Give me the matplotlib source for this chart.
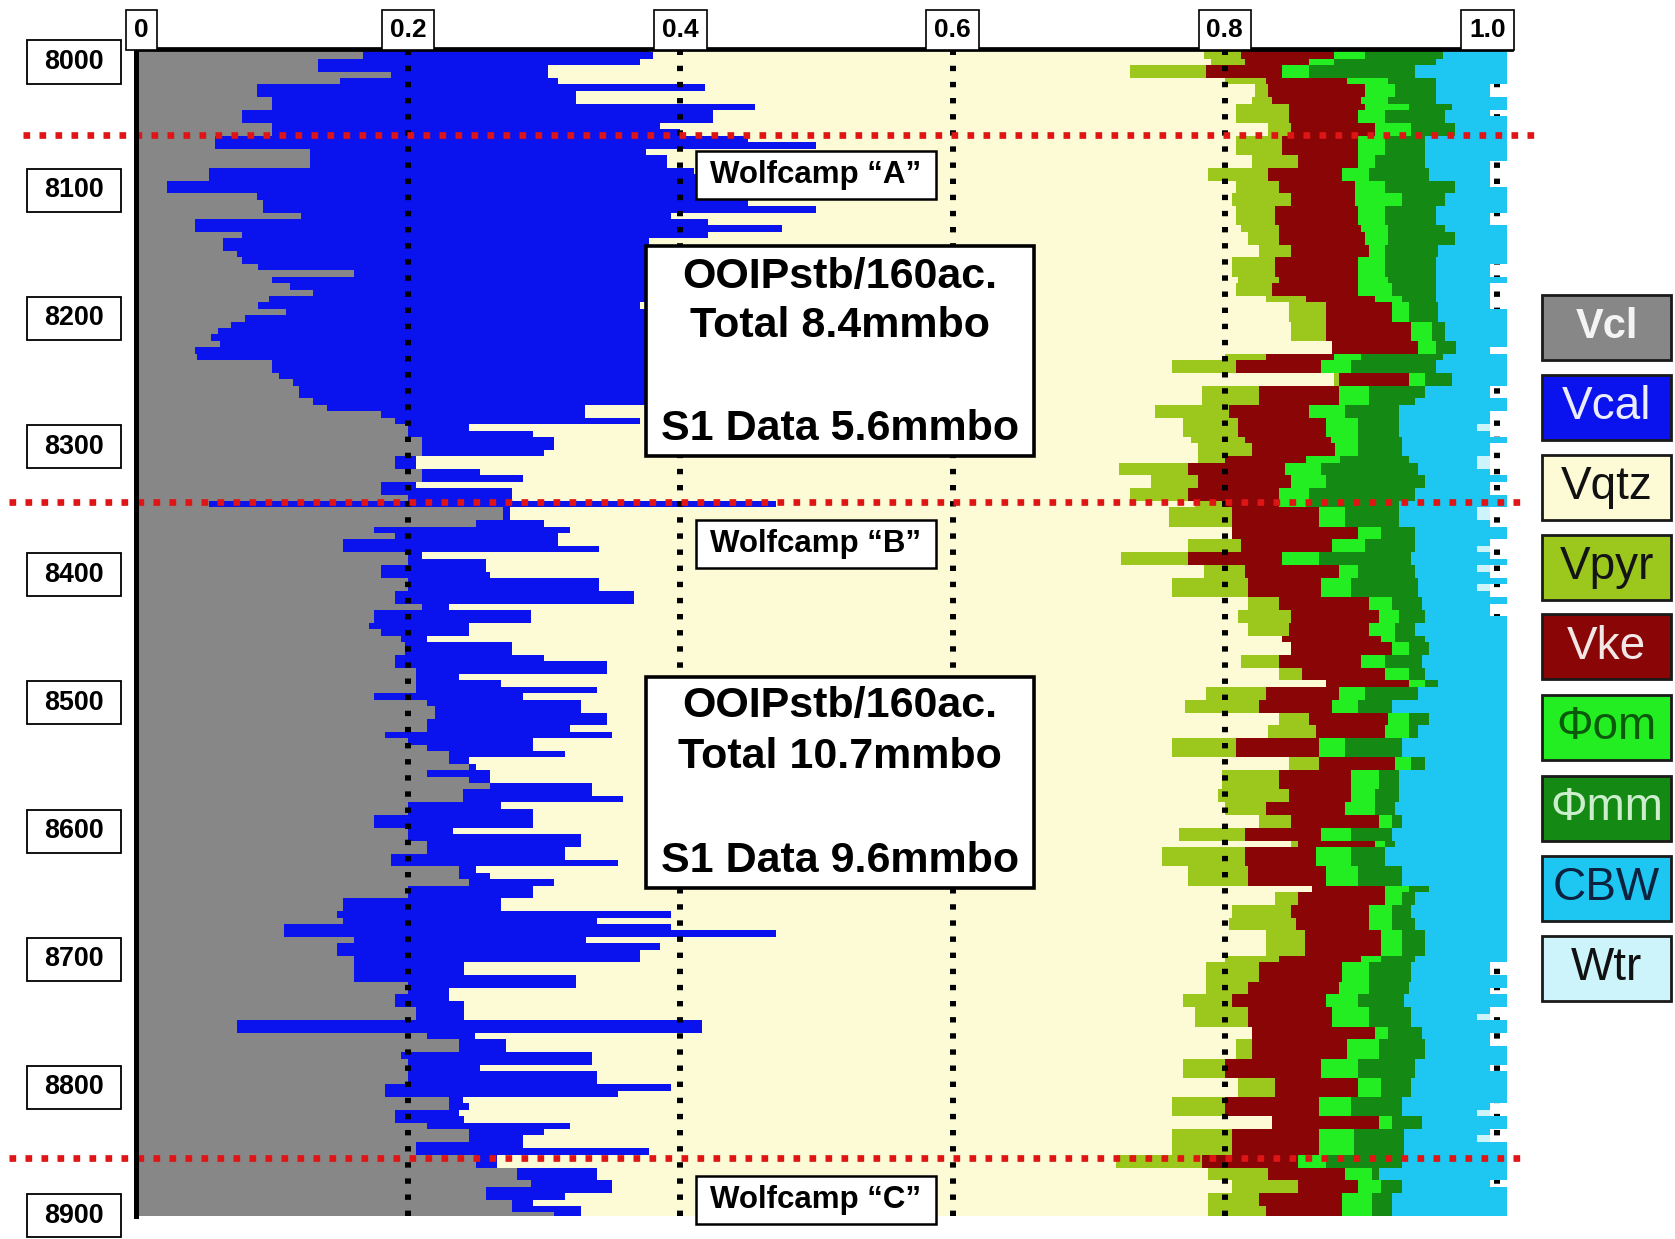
import numpy as np
import matplotlib
matplotlib.use("Agg")
import matplotlib.pyplot as plt
from matplotlib.patches import Rectangle
from matplotlib import font_manager
import matplotlib.transforms as mtransforms

# ---------------- data ----------------
depth = np.arange(7990, 8901, 5)          # ft, 5 ft sampling

# cumulative volume fractions (right edge of each component)
cum_vcl = [
    0.167,0.167,0.134,0.134,0.187,0.15,0.089,0.089,0.10,0.10,
    0.078,0.078,0.10,0.10,0.058,0.058,0.128,0.128,0.128,0.054,
    0.054,0.023,0.023,0.089,0.093,0.093,0.121,0.043,0.043,0.078,
    0.064,0.064,0.074,0.078,0.09,0.16,0.10,0.113,0.13,0.098,
    0.09,0.11,0.08,0.07,0.06,0.055,0.062,0.043,0.045,0.10,
    0.10,0.105,0.115,0.12,0.12,0.13,0.14,0.18,0.19,0.20,
    0.20,0.21,0.21,0.21,0.19,0.19,0.21,0.21,0.18,0.18,
    0.20,0.054,0.27,0.27,0.25,0.175,0.19,0.152,0.152,0.20,
    0.20,0.18,0.18,0.20,0.20,0.19,0.19,0.21,0.175,0.175,
    0.171,0.18,0.195,0.198,0.198,0.19,0.19,0.206,0.206,0.206,
    0.206,0.175,0.214,0.22,0.22,0.214,0.214,0.183,0.20,0.214,
    0.23,0.23,0.245,0.214,0.245,0.26,0.24,0.24,0.20,0.20,
    0.175,0.175,0.20,0.20,0.214,0.214,0.187,0.187,0.237,0.237,
    0.245,0.20,0.20,0.152,0.152,0.148,0.152,0.109,0.109,0.16,
    0.148,0.148,0.16,0.16,0.16,0.16,0.20,0.20,0.19,0.19,
    0.206,0.206,0.074,0.074,0.214,0.237,0.237,0.195,0.20,0.20,
    0.20,0.20,0.183,0.183,0.23,0.23,0.19,0.19,0.214,0.245,
    0.245,0.206,0.206,0.25,0.25,0.28,0.28,0.29,0.257,0.257,
    0.276,0.276,0.307]

cum_vcal = [
    0.377,0.38,0.37,0.303,0.303,0.31,0.418,0.323,0.323,0.455,
    0.424,0.424,0.385,0.40,0.45,0.50,0.375,0.39,0.39,0.41,
    0.43,0.43,0.44,0.43,0.45,0.50,0.393,0.42,0.475,0.42,
    0.377,0.39,0.39,0.39,0.39,0.39,0.39,0.39,0.39,0.39,
    0.37,0.39,0.39,0.39,0.39,0.39,0.39,0.39,0.39,0.39,
    0.39,0.39,0.39,0.39,0.39,0.39,0.33,0.33,0.37,0.245,
    0.292,0.307,0.307,0.30,0.206,0.206,0.253,0.284,0.206,0.276,
    0.276,0.47,0.275,0.275,0.30,0.319,0.31,0.31,0.34,0.21,
    0.257,0.257,0.26,0.34,0.34,0.366,0.366,0.23,0.29,0.29,
    0.245,0.245,0.214,0.276,0.276,0.30,0.346,0.346,0.237,0.268,
    0.339,0.284,0.327,0.327,0.346,0.346,0.319,0.35,0.292,0.292,
    0.315,0.245,0.25,0.26,0.26,0.335,0.335,0.358,0.268,0.292,
    0.292,0.292,0.233,0.327,0.327,0.315,0.315,0.354,0.25,0.26,
    0.307,0.292,0.292,0.268,0.268,0.393,0.339,0.393,0.47,0.331,
    0.385,0.37,0.37,0.241,0.241,0.323,0.323,0.23,0.23,0.241,
    0.241,0.241,0.416,0.416,0.249,0.272,0.272,0.335,0.335,0.253,
    0.339,0.339,0.393,0.354,0.24,0.245,0.237,0.241,0.319,0.30,
    0.284,0.284,0.377,0.265,0.265,0.339,0.339,0.35,0.35,0.315,
    0.292,0.327,0.327]

cum_vqtz = [
    .785,.785,.79,.73,.73,.80,.822,.822,.82,.808,
    .808,.808,.832,.832,.808,.808,.808,.82,.82,.788,
    .788,.808,.808,.805,.805,.808,.808,.808,.812,.817,
    .817,.825,.825,.805,.805,.805,.81,.808,.808,.83,
    .847,.847,.847,.849,.849,.849,.879,.879,.80,.761,
    .761,.88,.88,.783,.783,.783,.749,.749,.769,.769,
    .769,.775,.78,.78,.78,.722,.722,.746,.746,.73,
    .73,.778,.759,.759,.759,.805,.805,.773,.773,.724,
    .724,.785,.785,.761,.761,.761,.817,.817,.81,.81,
    .817,.817,.842,.849,.849,.812,.812,.84,.84,.874,
    .786,.786,.771,.771,.84,.84,.832,.832,.761,.761,
    .761,.847,.847,.798,.798,.798,.795,.795,.80,.80,
    .825,.825,.766,.766,.849,.754,.754,.754,.773,.773,
    .773,.864,.837,.837,.805,.805,.803,.803,.83,.83,
    .83,.83,.80,.786,.786,.786,.786,.786,.769,.769,
    .778,.778,.778,.82,.82,.808,.808,.808,.769,.769,
    .769,.81,.81,.81,.761,.761,.761,.835,.835,.761,
    .761,.761,.761,.72,.72,.788,.788,.805,.805,.788,
    .788,.788,.788]

cum_vpyr = [
    .812,.812,.815,.786,.786,.83,.832,.832,.835,.847,
    .847,.847,.849,.849,.842,.842,.842,.854,.854,.832,
    .832,.84,.84,.849,.849,.837,.837,.837,.84,.84,
    .84,.849,.849,.837,.837,.837,.84,.835,.835,.86,
    .874,.874,.874,.874,.874,.874,.879,.879,.83,.808,
    .808,.884,.884,.825,.825,.825,.803,.803,.81,.81,
    .81,.815,.82,.82,.80,.773,.773,.78,.78,.773,
    .773,.798,.805,.805,.805,.805,.805,.812,.812,.773,
    .773,.815,.815,.817,.817,.817,.84,.84,.849,.849,
    .847,.847,.842,.849,.849,.84,.84,.857,.857,.874,
    .83,.83,.825,.825,.862,.862,.867,.867,.808,.808,
    .808,.869,.869,.84,.84,.84,.847,.847,.83,.83,
    .849,.849,.815,.815,.854,.815,.815,.815,.817,.817,
    .817,.864,.854,.854,.849,.849,.852,.852,.859,.859,
    .859,.859,.84,.825,.825,.825,.817,.817,.805,.805,
    .817,.817,.817,.82,.82,.82,.82,.82,.80,.80,
    .80,.837,.837,.837,.80,.80,.80,.835,.835,.805,
    .805,.805,.805,.783,.783,.832,.832,.854,.854,.825,
    .825,.83,.83]

cum_vke = [
    .88,.88,.862,.842,.842,.89,.903,.903,.90,.903,
    .898,.898,.91,.91,.898,.898,.898,.898,.898,.886,
    .886,.896,.896,.896,.896,.898,.898,.898,.90,.903,
    .903,.906,.906,.898,.898,.898,.898,.898,.898,.91,
    .923,.923,.923,.937,.937,.937,.942,.942,.88,.871,
    .871,.935,.935,.884,.884,.884,.862,.862,.874,.874,
    .874,.878,.881,.881,.86,.844,.844,.849,.849,.84,
    .84,.84,.869,.869,.869,.898,.898,.879,.879,.842,
    .842,.884,.884,.871,.871,.871,.906,.906,.913,.913,
    .906,.906,.915,.923,.923,.90,.90,.918,.918,.935,
    .884,.884,.879,.879,.92,.92,.918,.918,.869,.869,
    .869,.925,.925,.893,.893,.893,.893,.893,.888,.888,
    .913,.913,.871,.871,.91,.867,.867,.867,.874,.874,
    .874,.918,.918,.918,.906,.906,.906,.906,.915,.915,
    .915,.915,.90,.886,.886,.886,.884,.884,.874,.874,
    .879,.879,.879,.91,.91,.89,.89,.89,.871,.871,
    .871,.898,.898,.898,.869,.869,.869,.913,.913,.869,
    .869,.869,.869,.854,.854,.888,.888,.898,.898,.886,
    .886,.886,.886]

cum_phiom = [
    .903,.903,.88,.862,.862,.92,.925,.925,.92,.935,
    .918,.918,.937,.937,.918,.918,.918,.91,.91,.906,
    .906,.918,.918,.93,.93,.918,.918,.918,.92,.92,
    .92,.918,.918,.918,.918,.918,.92,.923,.923,.93,
    .935,.935,.935,.952,.952,.952,.955,.955,.90,.893,
    .893,.947,.947,.906,.906,.906,.888,.888,.898,.898,
    .898,.898,.898,.898,.885,.871,.871,.874,.874,.862,
    .862,.86,.888,.888,.888,.915,.915,.903,.903,.869,
    .869,.898,.898,.893,.893,.893,.923,.923,.928,.928,
    .925,.925,.925,.935,.935,.918,.918,.935,.935,.947,
    .903,.903,.898,.898,.935,.935,.935,.935,.888,.888,
    .888,.937,.937,.913,.913,.913,.91,.91,.91,.91,
    .923,.923,.893,.893,.918,.893,.893,.893,.898,.898,
    .898,.935,.93,.93,.923,.923,.923,.923,.93,.93,
    .93,.93,.915,.906,.906,.906,.906,.906,.898,.898,
    .906,.906,.906,.92,.92,.913,.913,.913,.898,.898,
    .898,.915,.915,.915,.893,.893,.893,.923,.923,.895,
    .895,.895,.895,.874,.874,.908,.908,.915,.915,.908,
    .908,.908,.908]

cum_phimm = [
    .96,.96,.955,.94,.94,.955,.955,.955,.955,.967,
    .962,.962,.969,.969,.947,.947,.947,.947,.947,.95,
    .95,.969,.969,.962,.962,.955,.955,.955,.962,.969,
    .969,.957,.957,.955,.955,.955,.955,.955,.955,.955,
    .957,.957,.957,.962,.962,.962,.97,.97,.96,.955,
    .955,.967,.967,.947,.947,.94,.928,.928,.928,.928,
    .928,.93,.93,.93,.935,.942,.942,.947,.947,.94,
    .94,.928,.928,.928,.928,.94,.94,.94,.94,.937,
    .937,.94,.94,.942,.942,.942,.945,.945,.947,.947,
    .94,.94,.947,.95,.95,.945,.945,.947,.947,.957,
    .942,.942,.923,.923,.95,.95,.942,.942,.93,.93,
    .93,.947,.947,.928,.928,.928,.928,.928,.925,.925,
    .93,.93,.923,.923,.925,.918,.918,.918,.93,.93,
    .93,.95,.94,.94,.937,.937,.94,.94,.947,.947,
    .947,.947,.94,.937,.937,.937,.935,.935,.932,.932,
    .937,.937,.937,.945,.945,.947,.947,.947,.94,.94,
    .94,.937,.937,.937,.93,.93,.93,.945,.945,.932,
    .932,.932,.932,.93,.93,.913,.913,.93,.93,.923,
    .923,.923,.923]

cum_cbw = [
    1.007,1.007,1.007,1.007,1.007,1.007,.995,.995,1.007,1.007,
    .995,1.007,1.007,1.007,1.007,1.007,1.007,1.007,.995,.995,
    .995,.995,1.007,1.007,1.007,1.007,.995,.995,1.007,1.007,
    1.007,1.007,1.007,1.007,.995,.995,1.007,.995,.995,.995,
    .995,1.007,1.007,1.007,1.007,1.007,1.007,.995,1.007,1.007,
    1.007,1.007,1.007,.995,.995,1.007,1.007,.995,.995,.985,
    .995,1.007,.995,.995,.985,.985,.995,1.007,.995,.995,
    1.007,1.007,.985,.985,.995,1.007,1.007,.995,.985,.995,
    1.007,.985,.995,1.007,.985,.995,1.007,.995,.995,1.007,
    1.007,1.007,1.007,1.007,1.007,1.007,1.007,1.007,1.007,1.007,
    1.007,1.007,1.007,1.007,1.007,1.007,1.007,1.007,1.007,1.007,
    1.007,1.007,1.007,1.007,1.007,1.007,1.007,1.007,1.007,1.007,
    1.007,1.007,1.007,1.007,1.007,1.007,1.007,1.007,1.007,1.007,
    1.007,1.007,1.007,1.007,1.007,1.007,1.007,1.007,1.007,1.007,
    1.007,1.007,1.007,.995,.995,1.007,1.007,.995,1.007,1.007,
    .995,.985,1.007,1.007,.995,.995,1.007,1.007,1.007,.995,
    1.007,1.007,1.007,1.007,1.007,.995,.985,1.007,1.007,.995,
    .985,1.007,1.007,1.007,1.007,1.007,1.007,.995,1.007,1.007,
    1.007,1.007,1.007]

cum_wtr = [max(v, 0.995) for v in cum_cbw]  # pale Wtr patches up to ~0.995

depth_ticks = [8000, 8100, 8200, 8300, 8400, 8500, 8600, 8700, 8800, 8900]
top_ticks = [0, 0.2, 0.4, 0.6, 0.8, 1.0]
top_labels = ["0", "0.2", "0.4", "0.6", "0.8", "1.0"]
formation_tops = [8057, 8343, 8855]
zones = ["Wolfcamp \u201cA\u201d", "Wolfcamp \u201cB\u201d", "Wolfcamp \u201cC\u201d"]
zone_depths = [8088, 8376, 8888]
ooip_text = [["OOIPstb/160ac.", "Total 8.4mmbo", "S1 Data 5.6mmbo"],
             ["OOIPstb/160ac.", "Total 10.7mmbo", "S1 Data 9.6mmbo"]]

legend_labels = ["Vcl", "Vcal", "Vqtz", "Vpyr", "Vke", "\u03a6om", "\u03a6mm", "CBW", "Wtr"]
colors = ["#878787", "#0a12ee", "#fdfbd6", "#9cc81e", "#8a0606",
          "#22ee22", "#148a14", "#1ec6f2", "#cdf3fb"]

for arr in (cum_vcl, cum_vcal, cum_vqtz, cum_vpyr, cum_vke, cum_phiom, cum_phimm, cum_cbw):
    assert len(arr) == len(depth), len(arr)

# ---------------- figure ----------------
W, H = 1675, 1239
fig = plt.figure(figsize=(W / 100, H / 100), dpi=100)
fig.patch.set_facecolor("white")

names = {f.name for f in font_manager.fontManager.ttflist}
narrow = "Liberation Sans Narrow" in names
lab_family = "Liberation Sans Narrow" if narrow else "Liberation Sans"
lab_scale = 1.0 if narrow else 0.9
main_family = "Liberation Sans"

ax_top, ax_bot = 49.2, 1215.6
ax = fig.add_axes([136 / W, 1 - ax_bot / H, 1374.6 / W, (ax_bot - ax_top) / H])
ax.set_xlim(0, 1.01)
ax.set_ylim(8900, 7990)
ax.set_facecolor("white")
ax.set_xticks([])
ax.set_yticks([])
for s in ["right", "bottom"]:
    ax.spines[s].set_visible(False)
ax.spines["top"].set_linewidth(3.4)
ax.spines["left"].set_linewidth(3.6)
ax.spines["top"].set_zorder(6)
ax.spines["left"].set_zorder(6)

# 1.0 dotted line lies beneath the fills
ax.axvline(1.0, color="black", lw=4.3, ls=(0, (0.9, 1.8)), zorder=0.5)

edges = [np.zeros(len(depth)), cum_vcl, cum_vcal, cum_vqtz, cum_vpyr, cum_vke,
         cum_phiom, cum_phimm, cum_cbw]
for i in range(8):
    ax.fill_betweenx(depth, edges[i], edges[i + 1], step="mid", color=colors[i],
                     lw=0, antialiased=False, zorder=1)
# Wtr patches
ax.fill_betweenx(depth, cum_cbw, cum_wtr, step="mid", color=colors[8], lw=0,
                 antialiased=False, zorder=1)

# dotted grid lines
for v in top_ticks[1:-1]:
    ax.axvline(v, color="black", lw=4.3, ls=(0, (0.9, 1.8)), zorder=3)

# formation tops (red dotted)
red_ext = [(-0.083, 1.030), (-0.093, 1.018), (-0.093, 1.018)]
for d, (x0, x1) in zip(formation_tops, red_ext):
    ax.plot([x0, x1], [d, d], color="#e01414", lw=4.8, ls=(0, (1, 1.4)),
            dash_capstyle="butt", clip_on=False, zorder=4)

# zone boxes
bx0, bx1 = 0.4115, 0.5878
for name, d in zip(zones, zone_depths):
    ax.add_patch(Rectangle((bx0, d - 18.7), bx1 - bx0, 37.4, facecolor="white",
                           edgecolor="black", lw=1.8, zorder=7, clip_on=False))
    ax.text((bx0 + bx1) / 2, d, name, ha="center", va="center", fontsize=22.5,
            fontweight="bold", family=main_family, zorder=8, clip_on=False)

# OOIP boxes
ox0, ox1 = 0.3747, 0.6598
ooip_boxes = [(8143.5, 8307.4), (8479.8, 8644.4)]
line_depths = [[8167.7, 8206.0, 8286.3], [8502.4, 8542.2, 8623.4]]
for (d0, d1), lines, ld in zip(ooip_boxes, ooip_text, line_depths):
    ax.add_patch(Rectangle((ox0, d0), ox1 - ox0, d1 - d0, facecolor="white",
                           edgecolor="black", lw=2.6, zorder=7))
    for t, yy in zip(lines, ld):
        ax.text((ox0 + ox1) / 2, yy, t, ha="center", va="center", fontsize=31,
                fontweight="bold", family=main_family, zorder=8)

# depth labels (left)
tr_fd = mtransforms.blended_transform_factory(fig.transFigure, ax.transData)
for d in depth_ticks:
    ax.add_patch(Rectangle((27 / W, d - 16.8), 94 / W, 33.6, transform=tr_fd,
                           facecolor="white", edgecolor="black", lw=1.3,
                           clip_on=False, zorder=7))
    ax.text(74 / W, d, str(d), transform=tr_fd, ha="center", va="center",
            fontsize=21.5 * lab_scale, fontweight="bold", family=lab_family,
            clip_on=False, zorder=8)

# top labels
tr_df = mtransforms.blended_transform_factory(ax.transData, fig.transFigure)
top_pos = [0.004, 0.2, 0.4, 0.6, 0.8, 0.993]
for x, lab in zip(top_pos, top_labels):
    ax.text(x, 1 - 30 / H, lab, transform=tr_df, ha="center", va="center",
            fontsize=21 * lab_scale, fontweight="bold", family=lab_family,
            clip_on=False, zorder=8,
            bbox=dict(boxstyle="square,pad=0.3", fc="white", ec="black", lw=1.2))

# legend boxes (right)
leg_centers = [327, 407, 487, 567, 647, 727, 808, 888, 968]
txt_colors = ["#f4f4f4", "#ececff", "#111111", "#141414", "#f3e6e6",
              "#0b5a0b", "#cdeecd", "#0c2340", "#111111"]
for lab, c, tc, yc in zip(legend_labels, colors, txt_colors, leg_centers):
    fig.patches.append(Rectangle((1542 / W, 1 - (yc + 32.5) / H), 129 / W, 65 / H,
                                 transform=fig.transFigure, facecolor=c,
                                 edgecolor="#1a1a1a", lw=2.0))
    fig.text(1606.5 / W, 1 - yc / H, lab, ha="center", va="center",
             fontsize=30 if lab == "Vcl" else 33, color=tc,
             fontweight="bold" if lab == "Vcl" else "normal", family=main_family)

fig.savefig("out.png", dpi=100, facecolor="white")
